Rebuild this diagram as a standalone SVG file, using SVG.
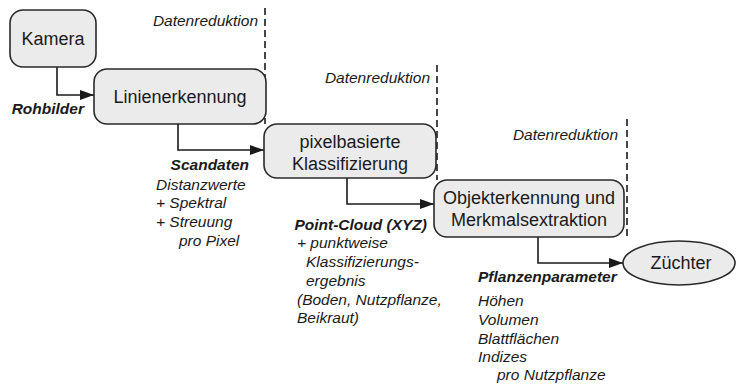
<svg xmlns="http://www.w3.org/2000/svg" width="737" height="384" viewBox="0 0 737 384">
<style>
.box{fill:#ebebeb;stroke:#2a2a2a;stroke-width:1.6}
.bt{font-family:"Liberation Sans",Arial,sans-serif;font-size:18px;fill:#1a1a1a;text-anchor:middle}
.it{font-family:"Liberation Sans",Arial,sans-serif;font-size:15.5px;font-style:italic;fill:#1a1a1a}
.bi{font-family:"Liberation Sans",Arial,sans-serif;font-size:15.5px;font-style:italic;font-weight:bold;fill:#1a1a1a}
.end{text-anchor:end}
.dash{stroke:#1a1a1a;stroke-width:1.6;stroke-dasharray:7 4;fill:none}
.con{stroke:#1a1a1a;stroke-width:1.6;fill:none;marker-end:url(#ah)}
</style>
<defs>
<marker id="ah" viewBox="0 0 14 10" refX="14" refY="5" markerWidth="14" markerHeight="10" markerUnits="userSpaceOnUse" orient="auto">
<path d="M0,0 L14,5 L0,10 Z" fill="#1a1a1a"/>
</marker>
</defs>
<rect width="737" height="384" fill="#ffffff"/>
<g id="reduktion">
<line class="dash" x1="265" y1="8" x2="265" y2="124"/>
<text class="it end" x="258" y="26">Datenreduktion</text>
<line class="dash" x1="437" y1="65" x2="437" y2="180"/>
<text class="it end" x="430" y="83">Datenreduktion</text>
<line class="dash" x1="627" y1="119" x2="627" y2="238"/>
<text class="it end" x="618" y="140">Datenreduktion</text>
</g>
<g id="connectors">
<path class="con" d="M57,67 V95 H94"/>
<path class="con" d="M178,124 V150 H264"/>
<path class="con" d="M347,178 V204 H434"/>
<path class="con" d="M538,237 V263 H623"/>
</g>
<g id="kamera">
<rect class="box" x="10" y="10" width="86" height="57" rx="13"/>
<text class="bt" x="53" y="45">Kamera</text>
</g>
<g id="linienerkennung">
<rect class="box" x="94" y="69" width="172" height="55" rx="13"/>
<text class="bt" x="180" y="103">Linienerkennung</text>
</g>
<g id="klassifizierung">
<rect class="box" x="264" y="124" width="172" height="54" rx="13"/>
<text class="bt" x="350" y="148">pixelbasierte</text>
<text class="bt" x="350" y="170">Klassifizierung</text>
</g>
<g id="objekterkennung">
<rect class="box" x="434" y="180" width="190" height="57" rx="13"/>
<text class="bt" x="529" y="204">Objekterkennung und</text>
<text class="bt" x="529" y="226">Merkmalsextraktion</text>
</g>
<g id="zuechter">
<ellipse class="box" cx="679" cy="263" rx="56" ry="22"/>
<text class="bt" x="681" y="269">Züchter</text>
</g>
<g id="labels">
<text class="bi end" x="84" y="114">Rohbilder</text>
<text class="bi end" x="249" y="170">Scandaten</text>
<text class="it" x="156" y="190">Distanzwerte</text>
<text class="it" x="156" y="208">+ Spektral</text>
<text class="it" x="156" y="227">+ Streuung</text>
<text class="it" x="179" y="246">pro Pixel</text>
<text class="bi end" x="427" y="230">Point-Cloud (XYZ)</text>
<text class="it" x="297" y="248">+ punktweise</text>
<text class="it" x="306" y="267">Klassifizierungs-</text>
<text class="it" x="306" y="286">ergebnis</text>
<text class="it" x="297" y="305">(Boden, Nutzpflanze,</text>
<text class="it" x="297" y="323">Beikraut)</text>
<text class="bi" x="478" y="282">Pflanzenparameter</text>
<text class="it" x="478" y="306">Höhen</text>
<text class="it" x="478" y="325">Volumen</text>
<text class="it" x="478" y="344">Blattflächen</text>
<text class="it" x="478" y="362">Indizes</text>
<text class="it" x="497" y="380">pro Nutzpflanze</text>
</g>
</svg>
